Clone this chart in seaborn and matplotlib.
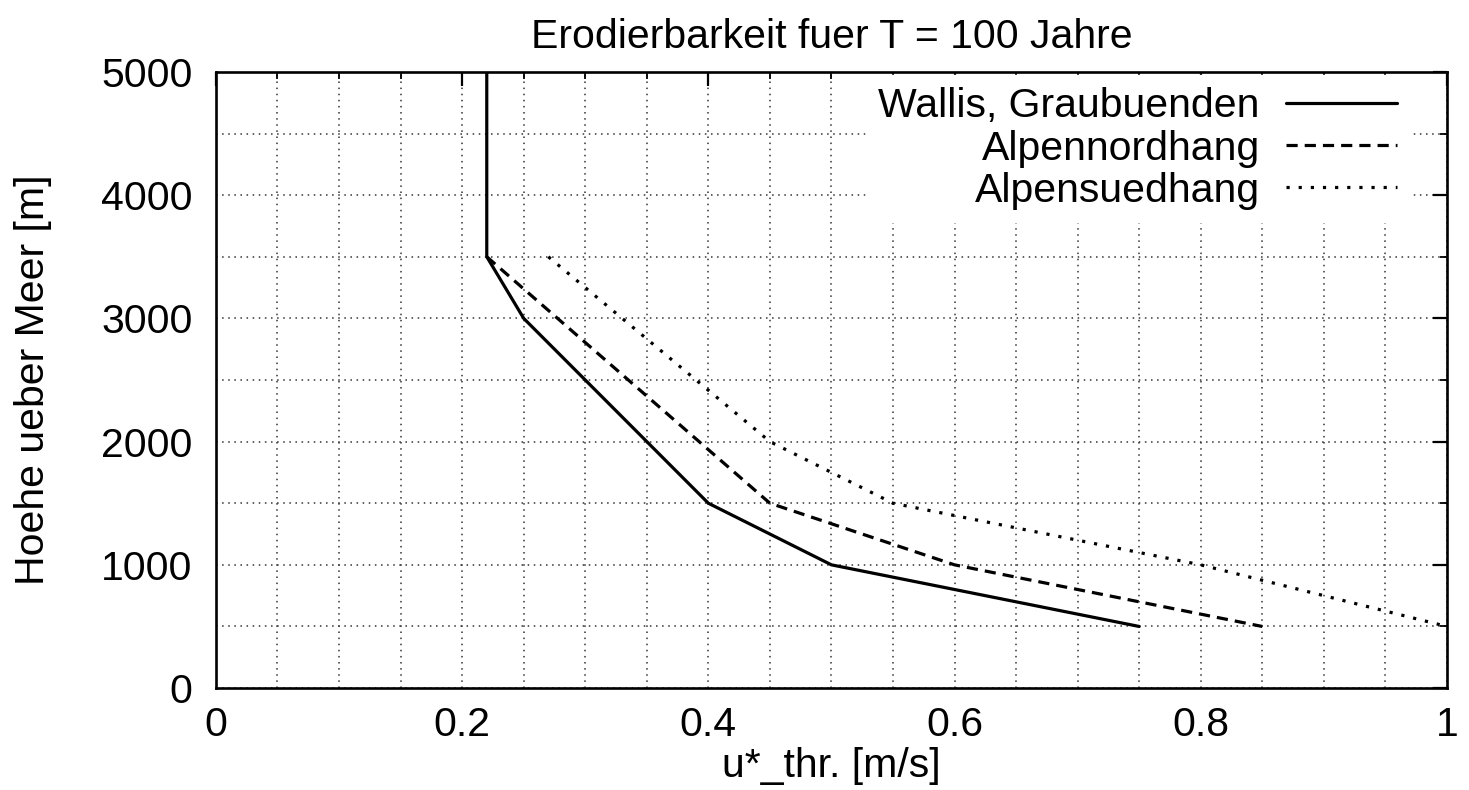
import numpy as np
import pandas as pd
import matplotlib
matplotlib.use("Agg")
import matplotlib.pyplot as plt
import seaborn as sns
from matplotlib.ticker import MultipleLocator

# Daten
wallis_u = [0.22, 0.22, 0.25, 0.40, 0.50, 0.75]
wallis_h = [5000, 3500, 3000, 1500, 1000, 500]

nord_u = [0.22, 0.45, 0.60, 0.85]
nord_h = [3500, 1500, 1000, 500]

sued_u = [0.27, 0.45, 0.55, 0.80, 1.00]
sued_h = [3500, 2000, 1500, 1000, 500]

labels = ['Wallis, Graubuenden', 'Alpennordhang', 'Alpensuedhang']
xtick_labels = ['0', '0.2', '0.4', '0.6', '0.8', '1']

sns.set_theme(style="white")
plt.rcParams['font.family'] = ['Liberation Sans', 'DejaVu Sans']
plt.rcParams['text.color'] = 'black'
plt.rcParams['axes.labelcolor'] = 'black'
FS = 29.5

fig = plt.figure(figsize=(14.69, 7.90), dpi=100)
ax = fig.add_axes([0.147, 0.129, 0.838, 0.780])

serien = [
    (wallis_u, wallis_h, labels[0], '-'),
    (nord_u, nord_h, labels[1], (0, (3.5, 2.2))),
    (sued_u, sued_h, labels[2], (0, (1, 2.8))),
]
for u, h, lab, ls in serien:
    sns.lineplot(x=u, y=h, ax=ax, sort=False, estimator=None, color='black',
                 linestyle=ls, linewidth=2.3, label=lab, zorder=3)

ax.set_xlim(0, 1)
ax.set_ylim(0, 5000)
ax.set_xticks(np.arange(0, 1.01, 0.2))
ax.set_xticklabels(xtick_labels)
ax.xaxis.set_minor_locator(MultipleLocator(0.05))
ax.yaxis.set_major_locator(MultipleLocator(1000))
ax.yaxis.set_minor_locator(MultipleLocator(500))

ax.grid(True, which='both', linestyle=(0, (1, 3)), color='#333333', linewidth=1.1)
ax.set_axisbelow(True)
ax.tick_params(which='both', direction='in', top=True, right=True,
               colors='black', labelsize=FS)
ax.tick_params(which='major', length=10, width=1.6)
ax.tick_params(which='minor', length=5, width=1.3)
ax.tick_params(axis='x', which='major', pad=13)
ax.tick_params(axis='y', which='major', pad=17)
for s in ax.spines.values():
    s.set_linewidth(1.9)
    s.set_color('black')

ax.set_title('Erodierbarkeit fuer T = 100 Jahre', fontsize=FS, pad=17)
ax.set_xlabel('u*_thr. [m/s]', fontsize=FS, labelpad=2)
ax.set_ylabel('Hoehe ueber Meer [m]', fontsize=FS, labelpad=35)

leg = ax.legend(loc='upper right', bbox_to_anchor=(0.986, 1.028),
                markerfirst=False, frameon=True,
                fancybox=False, framealpha=1, facecolor='white',
                edgecolor='white', handlelength=2.7, handletextpad=0.65,
                labelspacing=0.1, borderaxespad=0.5, borderpad=0.3,
                fontsize=FS)
leg.set_zorder(5)

fig.savefig('out.png', dpi=100)
